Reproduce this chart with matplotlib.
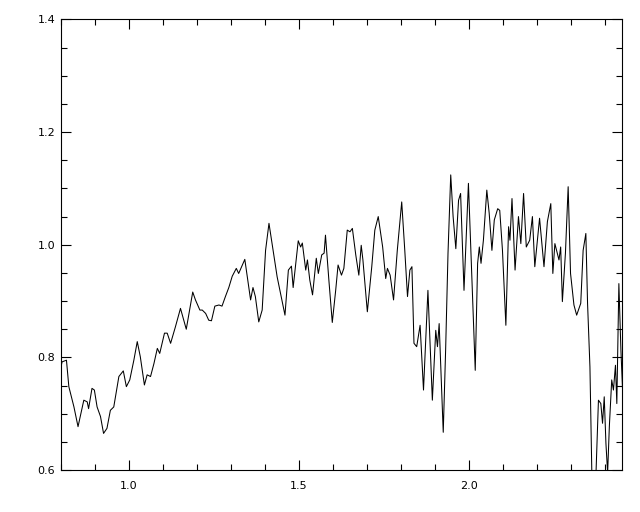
import matplotlib
matplotlib.use('Agg')
import matplotlib.pyplot as plt
from matplotlib.ticker import MultipleLocator, FormatStrFormatter

# spectrum (wavelength, normalised flux)
wave = [0.799, 0.804, 0.817, 0.824, 0.839, 0.851, 0.868, 0.878, 0.882, 0.892,
        0.899, 0.907, 0.917, 0.926, 0.936, 0.946, 0.956, 0.971, 0.984, 0.993,
        1.003, 1.015, 1.025, 1.034, 1.046, 1.054, 1.064, 1.074, 1.084, 1.091,
        1.105, 1.113, 1.123, 1.137, 1.152, 1.169, 1.188, 1.196, 1.209, 1.216,
        1.226, 1.235, 1.243, 1.253, 1.265, 1.274, 1.284, 1.294, 1.304, 1.316,
        1.323, 1.341, 1.358, 1.365, 1.372, 1.382, 1.392, 1.402, 1.412, 1.424,
        1.436, 1.459, 1.469, 1.478, 1.483, 1.498, 1.505, 1.510, 1.520, 1.525,
        1.532, 1.540, 1.551, 1.557, 1.567, 1.574, 1.578, 1.588, 1.598, 1.608,
        1.615, 1.625, 1.632, 1.642, 1.650, 1.657, 1.667, 1.676, 1.683, 1.688,
        1.701, 1.714, 1.723, 1.733, 1.746, 1.755, 1.760, 1.768, 1.778, 1.789,
        1.802, 1.811, 1.819, 1.826, 1.832, 1.838, 1.846, 1.856, 1.866, 1.879,
        1.892, 1.902, 1.907, 1.912, 1.924, 1.931, 1.938, 1.946, 1.953, 1.961,
        1.969, 1.975, 1.985, 1.998, 2.008, 2.018, 2.025, 2.030, 2.035, 2.042,
        2.052, 2.059, 2.067, 2.074, 2.084, 2.090, 2.098, 2.108, 2.116, 2.120,
        2.126, 2.135, 2.145, 2.152, 2.160, 2.168, 2.178, 2.186, 2.193, 2.207,
        2.220, 2.230, 2.240, 2.246, 2.252, 2.264, 2.269, 2.274, 2.283, 2.291,
        2.298, 2.308, 2.316, 2.328, 2.335, 2.343, 2.348, 2.355, 2.361, 2.372,
        2.380, 2.387, 2.392, 2.397, 2.402, 2.407, 2.412, 2.419, 2.424, 2.430,
        2.434, 2.440, 2.446, 2.453]
flux = [0.777, 0.792, 0.795, 0.748, 0.712, 0.677, 0.724, 0.721, 0.709, 0.745,
        0.742, 0.712, 0.695, 0.665, 0.674, 0.706, 0.712, 0.766, 0.776, 0.748,
        0.760, 0.795, 0.828, 0.801, 0.751, 0.769, 0.766, 0.789, 0.816, 0.807,
        0.843, 0.843, 0.825, 0.854, 0.887, 0.850, 0.916, 0.902, 0.884, 0.884,
        0.878, 0.866, 0.865, 0.891, 0.893, 0.891, 0.908, 0.924, 0.944, 0.958,
        0.949, 0.974, 0.902, 0.924, 0.908, 0.863, 0.884, 0.990, 1.038, 0.990,
        0.943, 0.875, 0.955, 0.962, 0.924, 1.007, 0.996, 1.003, 0.955, 0.973,
        0.937, 0.911, 0.976, 0.949, 0.982, 0.985, 1.017, 0.937, 0.862, 0.919,
        0.964, 0.946, 0.958, 1.026, 1.023, 1.029, 0.982, 0.946, 0.999, 0.973,
        0.881, 0.961, 1.026, 1.050, 0.996, 0.940, 0.958, 0.946, 0.902, 0.990,
        1.076, 0.990, 0.908, 0.955, 0.961, 0.825, 0.819, 0.857, 0.742, 0.919,
        0.724, 0.848, 0.819, 0.860, 0.667, 0.813, 0.985, 1.124, 1.050, 0.993,
        1.079, 1.091, 0.919, 1.109, 0.943, 0.777, 0.967, 0.996, 0.967, 1.008,
        1.097, 1.056, 0.990, 1.044, 1.064, 1.061, 0.990, 0.857, 1.032, 1.008,
        1.082, 0.955, 1.050, 1.002, 1.091, 0.996, 1.008, 1.050, 0.961, 1.047,
        0.961, 1.041, 1.073, 0.949, 1.002, 0.973, 0.996, 0.899, 0.985, 1.103,
        0.949, 0.893, 0.875, 0.896, 0.990, 1.020, 0.896, 0.783, 0.580, 0.580,
        0.724, 0.718, 0.683, 0.730, 0.647, 0.595, 0.677, 0.760, 0.742, 0.786,
        0.718, 0.931, 0.813, 0.712]

fig = plt.figure(figsize=(6.4, 5.12), dpi=100)
ax = fig.add_axes([0.0948, 0.082, 0.8775, 0.880])
ax.plot(wave, flux, color='black', linewidth=0.75)

ax.set_xlim(0.8, 2.45)
ax.set_ylim(0.6, 1.4)
ax.xaxis.set_major_locator(MultipleLocator(0.5))
ax.xaxis.set_minor_locator(MultipleLocator(0.1))
ax.yaxis.set_major_locator(MultipleLocator(0.2))
ax.yaxis.set_minor_locator(MultipleLocator(0.05))
ax.xaxis.set_major_formatter(FormatStrFormatter('%.1f'))
ax.yaxis.set_major_formatter(FormatStrFormatter('%.1f'))
ax.tick_params(which='both', direction='in', top=True, right=True,
               width=0.8, labelsize=8, colors='black')
ax.tick_params(which='major', length=7.5)
ax.tick_params(which='minor', length=4)
ax.tick_params(axis='x', pad=8)
ax.tick_params(axis='y', pad=4)
for s in ax.spines.values():
    s.set_linewidth(0.8)

fig.savefig('out.png', dpi=100)
